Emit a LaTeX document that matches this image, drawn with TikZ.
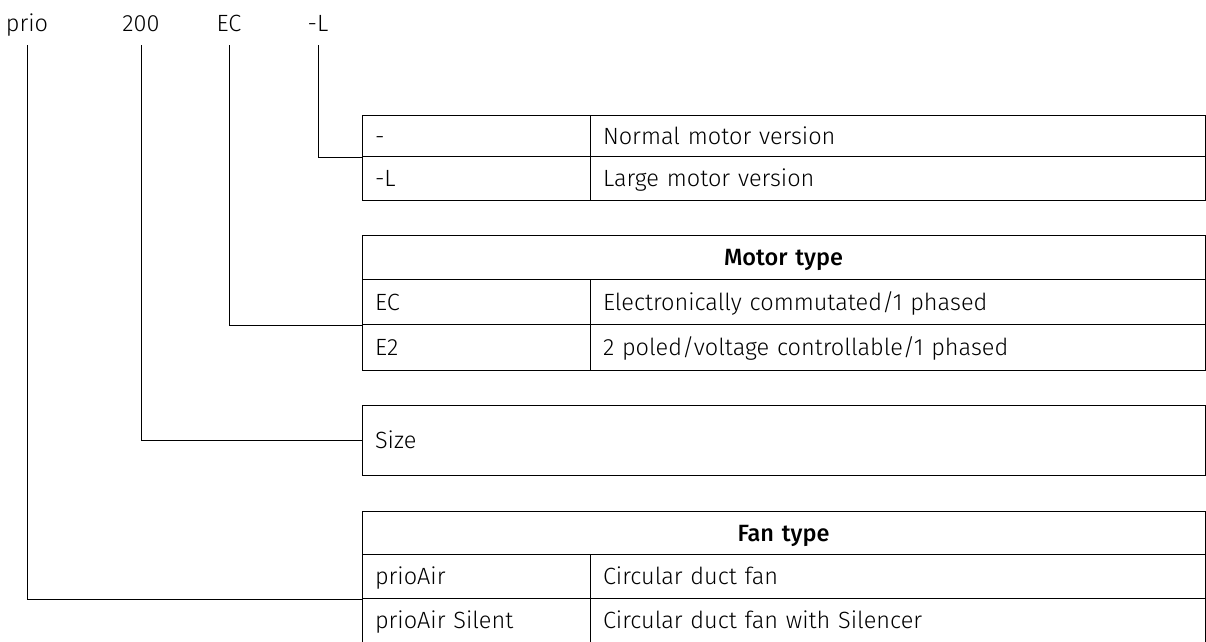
\documentclass[tikz,border=0pt]{standalone}
\usepackage{fontspec}
\setmainfont{Fira Sans Light}[BoldFont={Fira Sans Medium}]
\begin{document}
\begin{tikzpicture}[x=1pt,y=-1pt,
  every node/.style={font=\fontsize{23.5}{28}\selectfont},
  ln/.style={line width=1pt},
  lbl/.style={anchor=base, inner sep=0pt},
  cell/.style={draw, line width=1pt, anchor=north west, inner ysep=0pt, inner xsep=13pt,
    text height=16pt, text depth=0pt, align=left},
  lcol/.style={cell, minimum width=228pt, text width=202pt},
  rcol/.style={cell, minimum width=615pt, text width=589pt},
  full/.style={cell, minimum width=843pt, text width=817pt},
  head/.style={full, align=center, font=\fontsize{23.5}{28}\selectfont\bfseries}
]
\useasboundingbox (0,0) rectangle (1206,641);
% top labels
\node[lbl] (lprio) at (27,31) {prio};
\node[lbl] (l200) at (141,31) {200};
\node[lbl] (lEC) at (229,31) {EC};
\node[lbl] (lL) at (318,31) {-L};
% motor version
\node[lcol, minimum height=41pt] (m1a) at (361.5,115) {-};
\node[rcol, minimum height=41pt] (m1b) at (589.5,115) {Normal motor version};
\node[lcol, minimum height=44pt] (m2a) at (361.5,156) {-L};
\node[rcol, minimum height=44pt] (m2b) at (589.5,156) {Large motor version};
% motor type
\node[head, minimum height=44pt] (mth) at (361.5,235) {Motor type};
\node[lcol, minimum height=45pt] (t1a) at (361.5,279) {EC};
\node[rcol, minimum height=45pt] (t1b) at (589.5,279) {Electronically commutated/1 phased};
\node[lcol, minimum height=46pt] (t2a) at (361.5,324) {E2};
\node[rcol, minimum height=46pt] (t2b) at (589.5,324) {2 poled/voltage controllable/1 phased};
% size
\node[full, minimum height=70pt] (sz) at (361.5,405) {Size};
% fan type
\node[head, minimum height=43pt] (fth) at (361.5,511) {Fan type};
\node[lcol, minimum height=44pt] (f1a) at (361.5,554) {prioAir};
\node[rcol, minimum height=44pt] (f1b) at (589.5,554) {Circular duct fan};
\node[lcol, minimum height=44pt] (f2a) at (361.5,598) {prioAir Silent};
\node[rcol, minimum height=44pt] (f2b) at (589.5,598) {Circular duct fan with Silencer};
% connectors
\draw[ln] ([yshift=-14pt]lL.base) |- (m1a.south west);
\draw[ln] ([yshift=-14pt]lEC.base) |- (t1a.south west);
\draw[ln] ([yshift=-14pt]l200.base) |- (sz.west);
\draw[ln] ([yshift=-14pt]lprio.base) |- (f1a.south west);
\end{tikzpicture}
\end{document}
